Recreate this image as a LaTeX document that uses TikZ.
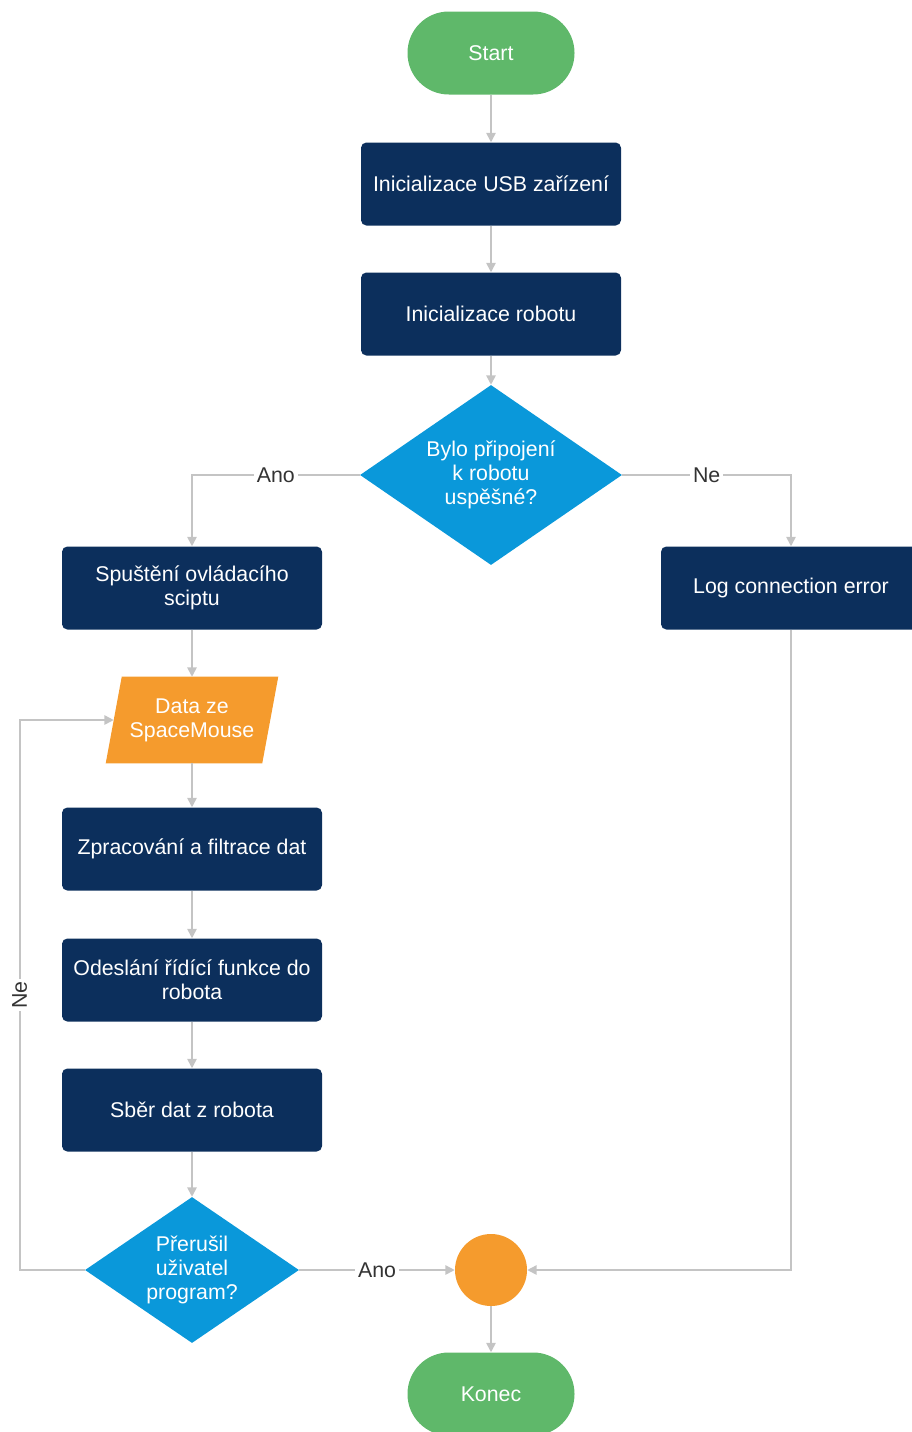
\documentclass[tikz,border=0pt]{standalone}
\usepackage{fontspec}
\setmainfont{Liberation Sans}
\usetikzlibrary{shapes.geometric,arrows.meta,backgrounds}
\definecolor{cgreen}{HTML}{5FB86A}
\definecolor{cnavy}{HTML}{0C2F5C}
\definecolor{cblue}{HTML}{0A98DA}
\definecolor{corange}{HTML}{F59B2D}
\definecolor{cline}{HTML}{C4C4C4}
\definecolor{clabel}{HTML}{333333}
\begin{document}
\begin{tikzpicture}[x=0.75pt,y=-0.75pt,
  every node/.style={font=\fontsize{16}{18}\selectfont, align=center},
  term/.style={rectangle, rounded corners=31pt, fill=cgreen, text=white, minimum width=125.25pt, minimum height=62.25pt, inner sep=0pt},
  procbox/.style={rectangle, rounded corners=4pt, fill=cnavy, text=white, minimum width=195pt, minimum height=62.25pt, inner sep=0pt},
  decision/.style={diamond, fill=cblue, text=white, inner sep=0pt},
  iobox/.style={rectangle, text=white, minimum width=117pt, minimum height=64.5pt, inner sep=0pt},
  joint/.style={circle, fill=corange, minimum size=54pt, inner sep=0pt},
  conn/.style={draw=cline, line width=1.2pt, -{Triangle[length=7pt,width=7pt]}},
  lbl/.style={text=clabel, fill=white, inner sep=2pt}
]
\useasboundingbox (0,0) rectangle (911,1432);
\node[term] (start) at (491,53) {Start};
\node[procbox] (usb) at (491,184) {Inicializace USB zařízení};
\node[procbox] (robot) at (491,314) {Inicializace robotu};
\node[decision, aspect=1.456, minimum width=196.5pt, minimum height=135pt] (dec1) at (491,475) {Bylo připojení\\k robotu\\uspěšné?};
\node[procbox] (spust) at (192,588) {Spuštění ovládacího\\sciptu};
\node[procbox] (log) at (791,588) {Log connection error};
\node[iobox] (data) at (192,720) {Data ze\\SpaceMouse};
\begin{scope}[on background layer]
  \fill[corange] ([xshift=-6pt]data.south west) -- ([xshift=6pt]data.north west)
    -- ([xshift=6pt]data.north east) -- ([xshift=-6pt]data.south east) -- cycle;
\end{scope}
\node[procbox] (zprac) at (192,849) {Zpracování a filtrace dat};
\node[procbox] (odesl) at (192,980) {Odeslání řídící funkce do\\robota};
\node[procbox] (sber) at (192,1110) {Sběr dat z robota};
\node[decision, aspect=1.466, minimum width=160.5pt, minimum height=109.5pt] (dec2) at (192,1270) {Přerušil\\uživatel\\program?};
\node[joint] (join) at (491,1270) {};
\node[term] (konec) at (491,1394) {Konec};

\draw[conn] (start) -- (usb);
\draw[conn] (usb) -- (robot);
\draw[conn] (robot) -- (dec1);
\draw[conn] (dec1.west) -| node[lbl, pos=0.25] {Ano} (spust);
\draw[conn] (dec1.east) -| node[lbl, pos=0.25] {Ne} (log);
\draw[conn] (spust) -- (data);
\draw[conn] (data) -- (zprac);
\draw[conn] (zprac) -- (odesl);
\draw[conn] (odesl) -- (sber);
\draw[conn] (sber) -- (dec2);
\draw[conn] (dec2.east) -- node[lbl] {Ano} (join);
\draw[conn] (log) |- (join);
\draw[conn] (dec2.west) -- ++(-65,0) |- node[lbl, pos=0.25, rotate=90] {Ne} (data);
\draw[conn] (join) -- (konec);
\end{tikzpicture}
\end{document}
